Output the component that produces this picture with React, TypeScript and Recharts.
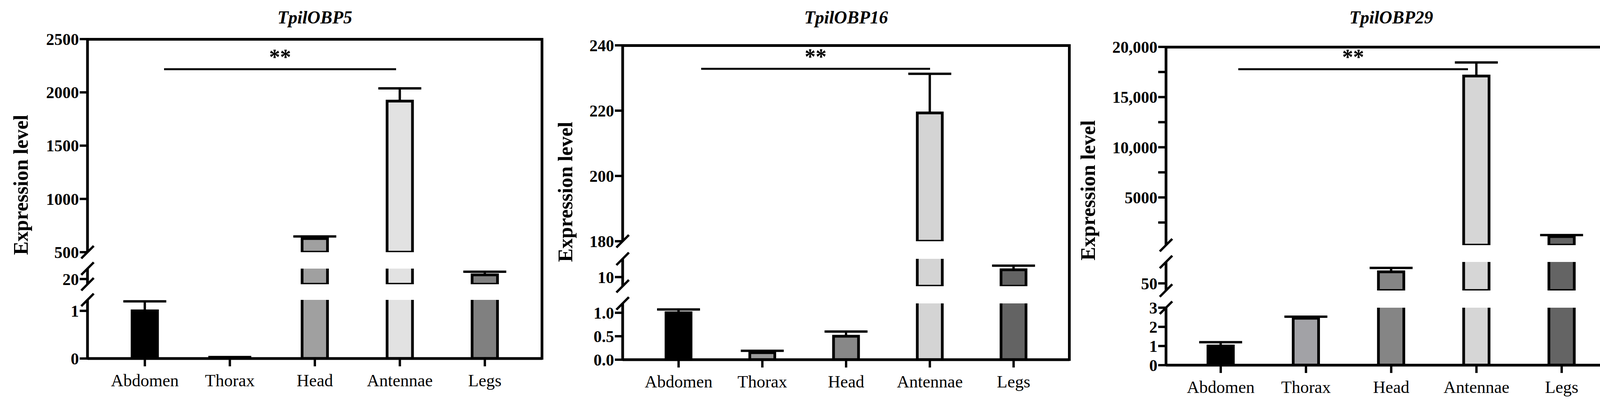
import React from "react"
import { BarChart, Bar, XAxis, YAxis, Cell } from "recharts"

const tissues = ["Abdomen", "Thorax", "Head", "Antennae", "Legs"]

const obp5Values = [1.0, 0.02, 628, 1918, 20.8]
const obp5Errors = [0.2, 0.01, 20, 120, 0.6]
const obp5Colors = ["#000000", "#8a8a8a", "#a0a0a0", "#e2e2e2", "#808080"]

const obp16Values = [1.0, 0.15, 0.5, 219.3, 10.8]
const obp16Errors = [0.07, 0.04, 0.1, 12, 0.45]
const obp16Colors = ["#000000", "#9a9a9a", "#888888", "#d4d4d4", "#636363"]

const obp29Values = [1.0, 2.45, 59.7, 17100, 1100]
const obp29Errors = [0.2, 0.08, 3.3, 1350, 150]
const obp29Colors = ["#000000", "#a2a2a6", "#858585", "#d6d6d6", "#646464"]

const font = "'Liberation Serif', 'Times New Roman', serif"

type Segment = { domain: [number, number]; ticks: number[]; labels?: boolean[]; top: number; bottom: number; fmt?: (v: number) => string }

type PanelProps = {
  title: string
  values: number[]
  errors: number[]
  colors: string[]
  left: number
  right: number
  pad: number
  segments: Segment[]
  labelX: number
  labelY: number
  sig: { x1: number; x2: number; y: number }
}

const M = 30

function Panel({ title, values, errors, colors, left, right, pad, segments, labelX, labelY, sig }: PanelProps) {
  const width = right - left
  const yw = 200
  const top = segments[0].top
  const zeroY = segments[segments.length - 1].bottom
  return (
    <>
      <div style={{ position: "absolute", left, width, top: 18, textAlign: "center", fontFamily: font, fontWeight: "bold", fontStyle: "italic", fontSize: 46 }}>{title}</div>
      <div style={{ position: "absolute", left: labelX - 300, top: labelY - 30, width: 600, height: 60, lineHeight: "60px", textAlign: "center", transform: "rotate(-90deg)", fontFamily: font, fontWeight: "bold", fontSize: 52 }}>Expression level</div>
      {segments.map((s, i) => {
        const last = i === segments.length - 1
        const h = s.bottom - s.top
        const pxPerUnit = h / (s.domain[1] - s.domain[0])
        const data = tissues.map((t, k) => ({ name: t, value: values[k], err: errors[k], color: colors[k] }))
        const shape = (p: any) => {
          const v = p.payload.value
          const inSeg = v >= s.domain[0] && v <= s.domain[1]
          const cx = p.x + p.width / 2
          const ey = p.y - p.payload.err * pxPerUnit
          return (
            <g>
              <rect x={p.x} y={p.y} width={p.width} height={p.height} fill={p.fill} stroke="#000" strokeWidth={7} />
              {inSeg && (
                <g stroke="#000" strokeWidth={6}>
                  <line x1={cx} x2={cx} y1={p.y} y2={ey} />
                  <line x1={cx - 55} x2={cx + 55} y1={ey} y2={ey} />
                </g>
              )}
            </g>
          )
        }
        return (
          <div key={i} style={{ position: "absolute", left: left - yw, top: s.top - M }}>
            <BarChart width={width + yw} height={h + 2 * M + (last ? 130 : 0)} data={data} margin={{ top: M, right: 0, bottom: last ? 0 : M, left: 0 }} barCategoryGap="35%">
              <XAxis dataKey="name" hide={!last} padding={{ left: pad, right: pad }} axisLine={{ stroke: "#000", strokeWidth: 7 }} tickLine={{ stroke: "#000", strokeWidth: 6 }} tickSize={20} height={130 + M} interval={0} tick={{ fontFamily: font, fontSize: 44, fill: "#000", dy: 18 }} />
              <YAxis width={yw} domain={s.domain} ticks={s.ticks} allowDataOverflow interval={0} axisLine={{ stroke: "#000", strokeWidth: 7 }} tickLine={{ stroke: "#000", strokeWidth: 6 }} tickSize={20} tickFormatter={(v: number) => { const idx = s.ticks.indexOf(v); if (s.labels && !s.labels[idx]) return ""; return s.fmt ? s.fmt(v) : String(v) }} tick={{ fontFamily: font, fontWeight: "bold", fontSize: 42, fill: "#000" }} />
              <Bar dataKey="value" isAnimationActive={false} shape={shape}>
                {data.map((d, k) => <Cell key={k} fill={d.color} />)}
              </Bar>
            </BarChart>
          </div>
        )
      })}
      <div style={{ position: "absolute", left: left - 3, width: width + 3, top: top - 3, height: 0, borderTop: "7px solid #000" }} />
      <div style={{ position: "absolute", left: right - 4, top: top - 3, height: zeroY - top + 6, borderLeft: "7px solid #000" }} />
      <svg style={{ position: "absolute", left: 0, top: 0 }} width={4160} height={1041}>
        {segments.slice(0, -1).map((s, i) => (
          <g key={i} stroke="#000" strokeWidth={6}>
            <line x1={left - 16} y1={s.bottom + 16} x2={left + 16} y2={s.bottom - 16} />
            <line x1={left - 16} y1={segments[i + 1].top + 16} x2={left + 16} y2={segments[i + 1].top - 16} />
          </g>
        ))}
        <line x1={sig.x1} x2={sig.x2} y1={sig.y} y2={sig.y} stroke="#000" strokeWidth={5} />
        <text x={(sig.x1 + sig.x2) / 2} y={sig.y - 12} textAnchor="middle" fontFamily={font} fontWeight="bold" fontSize={56}>**</text>
      </svg>
    </>
  )
}

export default function App() {
  return (
    <div style={{ position: "absolute", left: 0, top: 0, width: 4160, height: 1041, background: "#fff" }}>
      <style>{`.recharts-text, .recharts-cartesian-axis-tick-value { font-family: ${font}; }`}</style>
      <Panel title="TpilOBP5" values={obp5Values} errors={obp5Errors} colors={obp5Colors} left={224} right={1388} pad={38}
        segments={[
          { domain: [500, 2500], ticks: [500, 1000, 1500, 2000, 2500], top: 100, bottom: 645 },
          { domain: [19, 22], ticks: [20], top: 687, bottom: 727 },
          { domain: [0, 1.23], ticks: [0, 1], top: 767, bottom: 917 },
        ]}
        labelX={54} labelY={473} sig={{ x1: 420, x2: 1014, y: 177 }} />
      <Panel title="TpilOBP16" values={obp16Values} errors={obp16Errors} colors={obp16Colors} left={1594} right={2738} pad={36}
        segments={[
          { domain: [180, 240], ticks: [180, 200, 220, 240], top: 116, bottom: 617 },
          { domain: [9, 12], ticks: [10], top: 662, bottom: 732 },
          { domain: [0, 1.2], ticks: [0, 0.5, 1], top: 776, bottom: 920, fmt: (v) => v.toFixed(1) },
        ]}
        labelX={1448} labelY={491} sig={{ x1: 1795, x2: 2381, y: 176 }} />
      <Panel title="TpilOBP29" values={obp29Values} errors={obp29Errors} colors={obp29Colors} left={2985} right={4138} pad={31}
        segments={[
          { domain: [245, 20000], ticks: [2500, 5000, 7500, 10000, 12500, 15000, 17500, 20000], labels: [false, true, false, true, false, true, false, true], top: 120, bottom: 627, fmt: (v) => (v >= 10000 ? v.toLocaleString("en-US") : String(v)) },
          { domain: [44, 68], ticks: [50], top: 670, bottom: 743 },
          { domain: [0, 3], ticks: [0, 1, 2, 3], top: 787, bottom: 934 },
        ]}
        labelX={2786} labelY={487} sig={{ x1: 3170, x2: 3758, y: 177 }} />
    </div>
  )
}
